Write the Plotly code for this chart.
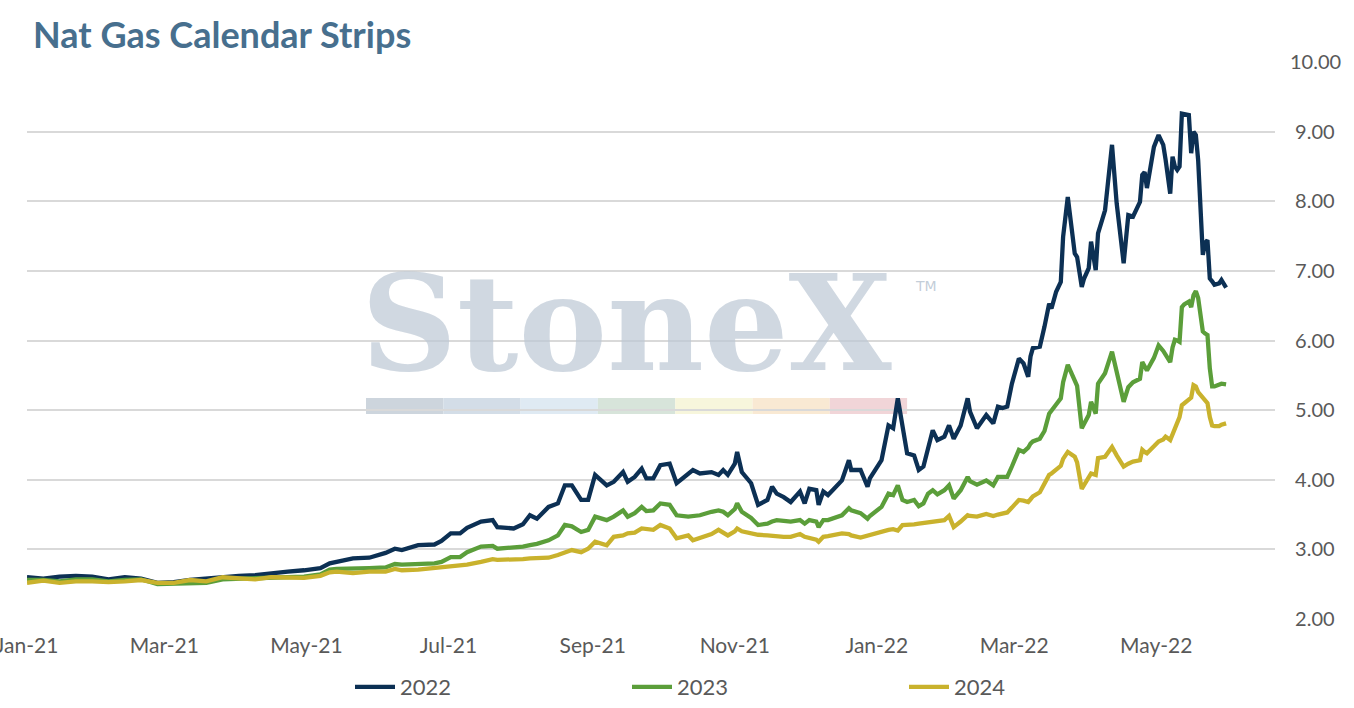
import plotly.graph_objects as go

# Calendar strip settlement prices ($/MMBtu)
dates = [
    "2021-01-01", "2021-01-08", "2021-01-15", "2021-01-22", "2021-01-29", "2021-02-05",
    "2021-02-12", "2021-02-19", "2021-02-26", "2021-03-05", "2021-03-12", "2021-03-19",
    "2021-03-26", "2021-04-02", "2021-04-09", "2021-04-16", "2021-04-23", "2021-04-30",
    "2021-05-07", "2021-05-11", "2021-05-14", "2021-05-21", "2021-05-28", "2021-06-04",
    "2021-06-08", "2021-06-11", "2021-06-18", "2021-06-25", "2021-06-28",
    "2021-07-02", "2021-07-06", "2021-07-09", "2021-07-15", "2021-07-20", "2021-07-22",
    "2021-07-29", "2021-08-02", "2021-08-05", "2021-08-08", "2021-08-13", "2021-08-17",
    "2021-08-20", "2021-08-23", "2021-08-27", "2021-08-30", "2021-09-02", "2021-09-07",
    "2021-09-10", "2021-09-14", "2021-09-16", "2021-09-19", "2021-09-22", "2021-09-24",
    "2021-09-27", "2021-09-30", "2021-10-04", "2021-10-07", "2021-10-12", "2021-10-14",
    "2021-10-17", "2021-10-22", "2021-10-25", "2021-10-27", "2021-10-29", "2021-11-01",
    "2021-11-02", "2021-11-04", "2021-11-08", "2021-11-11", "2021-11-15", "2021-11-17",
    "2021-11-19", "2021-11-22", "2021-11-25", "2021-11-29", "2021-12-01", "2021-12-03",
    "2021-12-06", "2021-12-07", "2021-12-09", "2021-12-11", "2021-12-13", "2021-12-17",
    "2021-12-20", "2021-12-21", "2021-12-25", "2021-12-28", "2021-12-29",
    "2022-01-03", "2022-01-06", "2022-01-08", "2022-01-10", "2022-01-12", "2022-01-14",
    "2022-01-17", "2022-01-19", "2022-01-21", "2022-01-23", "2022-01-25", "2022-01-27",
    "2022-01-30", "2022-02-01", "2022-02-03", "2022-02-06", "2022-02-09", "2022-02-10",
    "2022-02-13", "2022-02-17", "2022-02-20", "2022-02-22", "2022-02-24", "2022-02-26",
    "2022-02-28", "2022-03-03", "2022-03-05", "2022-03-07", "2022-03-08", "2022-03-09",
    "2022-03-12", "2022-03-14", "2022-03-16", "2022-03-17", "2022-03-19", "2022-03-21",
    "2022-03-22", "2022-03-24", "2022-03-27", "2022-03-28", "2022-03-30", "2022-03-31",
    "2022-04-02", "2022-04-03", "2022-04-05", "2022-04-06", "2022-04-09", "2022-04-12",
    "2022-04-14", "2022-04-17", "2022-04-19", "2022-04-21", "2022-04-24", "2022-04-25",
    "2022-04-26", "2022-04-27", "2022-04-30", "2022-05-02", "2022-05-04", "2022-05-05",
    "2022-05-07", "2022-05-08", "2022-05-09", "2022-05-10", "2022-05-11", "2022-05-12",
    "2022-05-13", "2022-05-15", "2022-05-16", "2022-05-17", "2022-05-18", "2022-05-19",
    "2022-05-21", "2022-05-22", "2022-05-23", "2022-05-24", "2022-05-25", "2022-05-26",
    "2022-05-28", "2022-05-29", "2022-05-31",
]

strip_2022 = [
    2.60, 2.58, 2.61, 2.62, 2.61, 2.57, 2.60, 2.58, 2.52, 2.53, 2.56, 2.58,
    2.61, 2.62, 2.63, 2.66, 2.68, 2.70, 2.73, 2.80, 2.82, 2.87, 2.88, 2.95,
    3.01, 2.99, 3.06, 3.07, 3.12,
    3.23, 3.23, 3.31, 3.40, 3.42, 3.32, 3.30, 3.36, 3.49, 3.44, 3.61, 3.66,
    3.92, 3.92, 3.71, 3.71, 4.07, 3.92, 3.97, 4.11, 3.97, 4.04, 4.16, 4.02,
    4.02, 4.21, 4.23, 3.95, 4.09, 4.14, 4.09, 4.11, 4.07, 4.14, 4.07, 4.23,
    4.40, 4.11, 3.95, 3.64, 3.71, 3.90, 3.80, 3.75, 3.68, 3.83, 3.66, 3.87,
    3.85, 3.64, 3.83, 3.78, 3.85, 3.99, 4.28, 4.14, 4.14, 3.90, 4.02,
    4.28, 4.78, 4.74, 5.17, 4.76, 4.38, 4.35, 4.14, 4.19, 4.43, 4.71, 4.57,
    4.62, 4.78, 4.59, 4.78, 5.17, 4.98, 4.74, 4.93, 4.81, 5.05, 5.03, 5.05,
    5.38, 5.74, 5.67, 5.48, 5.77, 5.89, 5.91, 6.20, 6.53, 6.46, 6.70, 6.84,
    7.49, 8.06, 7.25, 7.20, 6.77, 6.89, 7.04, 7.42, 7.01, 7.54, 7.87, 8.81,
    7.97, 7.11, 7.80, 7.78, 7.99, 8.38, 8.42, 8.19, 8.78, 8.95, 8.81, 8.60,
    8.11, 8.64, 8.50, 8.45, 8.50, 9.26, 9.25, 9.24, 8.69, 9.00, 8.95, 8.59,
    7.23, 7.40, 7.44, 6.89, 6.85, 6.80, 6.82, 6.87, 6.76,
]

strip_2023 = [
    2.56, 2.56, 2.54, 2.57, 2.57, 2.54, 2.56, 2.57, 2.50, 2.51, 2.52, 2.52,
    2.57, 2.58, 2.58, 2.60, 2.61, 2.61, 2.64, 2.71, 2.72, 2.72, 2.73, 2.74,
    2.79, 2.78, 2.79, 2.80, 2.82,
    2.89, 2.89, 2.96, 3.04, 3.05, 3.01, 3.02, 3.04, 3.06, 3.08, 3.13, 3.20,
    3.35, 3.33, 3.25, 3.28, 3.47, 3.42, 3.47, 3.56, 3.47, 3.52, 3.61, 3.55,
    3.56, 3.66, 3.64, 3.49, 3.47, 3.48, 3.49, 3.54, 3.56, 3.54, 3.49, 3.58,
    3.66, 3.54, 3.45, 3.35, 3.37, 3.40, 3.42, 3.41, 3.40, 3.42, 3.37, 3.42,
    3.40, 3.32, 3.42, 3.42, 3.44, 3.49, 3.59, 3.56, 3.52, 3.44, 3.48,
    3.61, 3.80, 3.78, 3.92, 3.71, 3.68, 3.71, 3.62, 3.66, 3.80, 3.85, 3.79,
    3.85, 3.92, 3.73, 3.85, 4.04, 3.98, 3.93, 3.99, 3.92, 4.04, 4.04, 4.04,
    4.19, 4.43, 4.40, 4.46, 4.52, 4.55, 4.59, 4.70, 4.95, 5.00, 5.08, 5.17,
    5.40, 5.65, 5.43, 5.35, 4.74, 4.80, 4.93, 5.12, 4.95, 5.38, 5.53, 5.84,
    5.55, 5.12, 5.33, 5.40, 5.45, 5.69, 5.63, 5.57, 5.75, 5.93, 5.85, 5.80,
    5.69, 5.90, 6.01, 6.00, 5.98, 6.48, 6.52, 6.56, 6.48, 6.65, 6.71, 6.61,
    6.13, 6.10, 6.08, 5.60, 5.34, 5.34, 5.36, 5.38, 5.37,
]

strip_2024 = [
    2.52, 2.55, 2.52, 2.54, 2.54, 2.53, 2.54, 2.56, 2.52, 2.52, 2.56, 2.54,
    2.60, 2.58, 2.57, 2.60, 2.59, 2.59, 2.62, 2.67, 2.68, 2.66, 2.68, 2.68,
    2.72, 2.70, 2.71, 2.73, 2.75,
    2.75, 2.76, 2.78, 2.82, 2.86, 2.85, 2.85, 2.86, 2.87, 2.87, 2.88, 2.92,
    2.96, 2.99, 2.96, 3.01, 3.11, 3.06, 3.18, 3.20, 3.23, 3.24, 3.30, 3.29,
    3.28, 3.35, 3.30, 3.16, 3.20, 3.13, 3.17, 3.22, 3.28, 3.24, 3.20, 3.26,
    3.30, 3.26, 3.23, 3.21, 3.20, 3.19, 3.18, 3.18, 3.18, 3.22, 3.18, 3.17,
    3.14, 3.11, 3.18, 3.19, 3.20, 3.23, 3.22, 3.20, 3.17, 3.20, 3.20,
    3.25, 3.28, 3.29, 3.27, 3.35, 3.35, 3.36, 3.37, 3.38, 3.40, 3.41, 3.41,
    3.42, 3.48, 3.32, 3.40, 3.49, 3.48, 3.47, 3.51, 3.48, 3.50, 3.52, 3.53,
    3.60, 3.71, 3.70, 3.68, 3.72, 3.76, 3.82, 3.95, 4.07, 4.09, 4.14, 4.20,
    4.30, 4.40, 4.33, 4.25, 3.87, 3.93, 4.02, 4.09, 4.07, 4.31, 4.33, 4.47,
    4.35, 4.19, 4.23, 4.26, 4.28, 4.43, 4.40, 4.38, 4.48, 4.55, 4.58, 4.62,
    4.57, 4.65, 4.70, 4.78, 4.90, 5.07, 5.10, 5.14, 5.18, 5.36, 5.34, 5.26,
    5.17, 5.14, 5.10, 4.90, 4.78, 4.77, 4.77, 4.79, 4.81,
]

series_names = ["2022", "2023", "2024"]
series_colors = ["#0c3054", "#5b9e3a", "#c9b22d"]

y_ticks = [2, 3, 4, 5, 6, 7, 8, 9, 10]
y_ticktext = [("\u00a0" if v < 10 else "") + f"{v:.2f}" for v in y_ticks]

# StoneX watermark stripe colours
stripe_colors = ["#cdd5dd", "#d3dde7", "#dfeaf3", "#d7e4da", "#f7f6dc", "#f9e9d3", "#f1d5d8"]

FONT = "Lato, 'Open Sans', sans-serif"
GRAY = "#595959"

fig = go.Figure()

for name, vals, color in zip(series_names, [strip_2022, strip_2023, strip_2024], series_colors):
    fig.add_trace(go.Scatter(
        x=dates,
        y=vals,
        mode="lines",
        name=name,
        line=dict(color=color, width=4.3),
    ))

# watermark: colour stripe (below grid) and logo text
W, H = 1354, 708
ML, MR, MT, MB = 27, 79, 62, 89
pw, ph = W - ML - MR, H - MT - MB
x0_px, seg_px = 366, 77.3
for i, c in enumerate(stripe_colors):
    fig.add_shape(
        type="rect", xref="paper", yref="paper", layer="below",
        x0=(x0_px + i * seg_px - ML) / pw, x1=(x0_px + (i + 1) * seg_px - ML) / pw,
        y0=(H - MB - 414) / ph, y1=(H - MB - 398) / ph,
        line=dict(width=0), fillcolor=c,
    )

fig.add_annotation(
    text="StoneX", xref="paper", yref="paper",
    x=(627 - ML) / pw, y=(H - MB - 323) / ph,
    xanchor="center", yanchor="middle", showarrow=False,
    font=dict(family="DejaVu Serif", size=133, weight="bold", color="rgba(188,199,212,0.70)"),
)
fig.add_annotation(
    text="TM", xref="paper", yref="paper",
    x=(913 - ML) / pw, y=(H - MB - 286) / ph,
    xanchor="left", yanchor="middle", showarrow=False,
    font=dict(family="DejaVu Sans", size=14, color="rgba(188,199,212,0.9)"),
)

fig.update_layout(
    width=W,
    height=H,
    margin=dict(l=ML, r=MR, t=MT, b=MB, autoexpand=False),
    plot_bgcolor="white",
    paper_bgcolor="white",
    font=dict(family=FONT, color=GRAY, size=20),
    title=dict(
        text="Nat Gas Calendar Strips",
        xref="container", yref="container",
        x=33 / W, xanchor="left",
        y=1 - 35 / H, yanchor="middle",
        font=dict(family=FONT, size=36, color="#476f8e", weight="bold"),
    ),
    xaxis=dict(
        type="date",
        range=["2021-01-01", "2022-06-21"],
        tick0="2021-01-01",
        dtick="M2",
        tickformat="%b-%y",
        showgrid=False,
        zeroline=False,
        showline=False,
        ticks="outside",
        ticklen=8,
        tickcolor="rgba(0,0,0,0)",
        ticklabeloverflow="allow",
        automargin=False,
        tickfont=dict(size=21, color=GRAY),
    ),
    yaxis=dict(
        side="right",
        range=[2, 10],
        tickvals=y_ticks,
        ticktext=y_ticktext,
        showgrid=True,
        gridcolor="#d9d9d9",
        gridwidth=2,
        zeroline=False,
        showline=False,
        ticks="outside",
        ticklen=10,
        tickcolor="rgba(0,0,0,0)",
        automargin=False,
        tickfont=dict(size=20, color=GRAY),
    ),
    legend=dict(
        orientation="h",
        xref="container", yref="container",
        x=350 / W, xanchor="left",
        y=1 - 687 / H, yanchor="middle",
        itemwidth=40,
        entrywidth=222,
        font=dict(size=22, color=GRAY),
        bgcolor="rgba(0,0,0,0)",
    ),
    showlegend=True,
)

# the page's default 8px body margin would shift the figure; remove it
fig.write_html(
    "out.html",
    config={"displayModeBar": False},
    post_script="document.body.style.margin='0';",
)
